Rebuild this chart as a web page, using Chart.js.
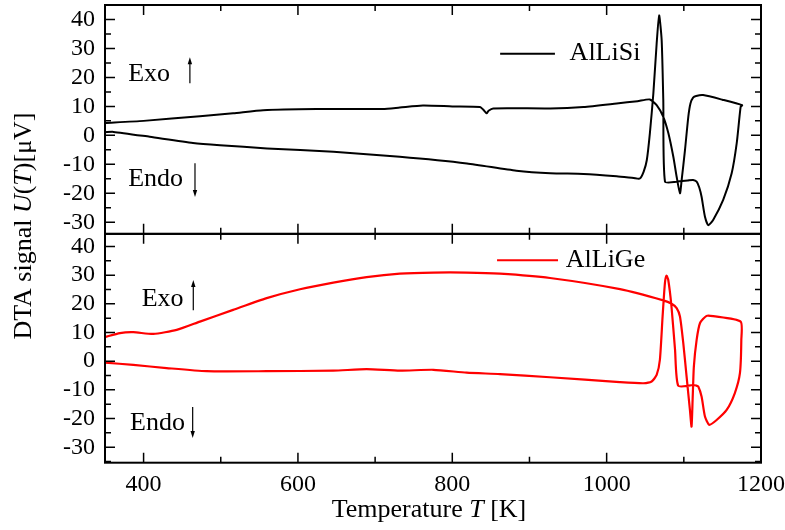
<!DOCTYPE html>
<html><head><meta charset="utf-8">
<style>html,body{margin:0;padding:0;background:#fff}#wrap{width:785px;height:530px;position:relative}</style>
<script src="https://cdn.jsdelivr.net/npm/chart.js@4.4.0/dist/chart.umd.min.js"></script>
</head><body><div id="wrap"><canvas id="c" width="785" height="530"></canvas></div>
<script>
// ---- data ----
const seriesNames = ['AlLiSi', 'AlLiGe'];
// AlLiSi: one continuous loop (lower branch left->right, then upper branch right->left)
const siT = [350,361,408,464,499,560,646,732,819,883,927,970,1013,1035,1043,1048,1052,1056,1060.5,1064.8,1068,1071.3,1073.4,1075.6,1090.7,1105,1112,1116.6,1120,1123,1127.4,1131.7,1138,1151,1162,1168.5,1173.6,1175.5,
  1150,1125,1116,1112,1108.6,1105.8,1101.5,1097.2,1095,1090.7,1086.4,1080,1073.4,1064.8,1056,1040,1013,970,927,853,847,844.5,840,836,800,762,732,710,624,555,516,473,400,350];
const siU = [1.1,1.2,-0.5,-2.6,-3.4,-4.5,-5.7,-7.4,-9.7,-12.2,-13.1,-13.3,-14.1,-14.7,-14.9,-12.5,-8.6,0.7,14.4,31.7,41.4,32.8,12.1,-16.0,-16.0,-15.6,-15.4,-16.0,-18.0,-21.2,-28.1,-31.0,-29.2,-22.3,-13.1,-2.8,9.8,10.4,
  12.3,13.9,13.6,13.0,11.0,6.4,-5.1,-15.4,-20.0,-14.3,-7.4,0.7,6.4,10.4,12.4,11.8,11.0,9.8,9.3,9.3,8.5,7.6,8.9,9.8,10.0,10.3,9.6,9.1,9.1,8.7,7.6,6.6,5.0,4.3];
// AlLiGe
const geT = [350,386.7,429.8,481.5,559.5,645.8,689,732,775.5,818.6,861.8,926.6,1017,1047.5,1058.3,1064.8,1069,1072.5,1075.5,1077.5,1079.8,1084,1088.6,1092.8,1112,1116,1118.7,1123,1127.4,1133,1142.5,1155.5,1166,1172.7,1174.5,1173.6,
  1138,1129.5,1121,1116.6,1113,1111.4,1110,1107.9,1103.6,1099.3,1095,1090.7,1084.2,1073.4,1017.3,926.6,861.8,818.6,775.5,732,689,645.8,602.7,559.5,516,473,442.9,412.6,386.7,369.4,350];
const geU = [-0.5,-1.3,-2.4,-3.5,-3.5,-3.3,-2.8,-3.3,-3.0,-4.0,-4.5,-5.6,-7.3,-7.7,-7.1,-4.8,0.5,15.6,27.2,29.8,28.4,19.1,4.0,-8.6,-8.3,-8.5,-8.8,-12.3,-19.3,-22.2,-20.5,-17.0,-11.2,-4.2,7.4,13.8,
  15.7,15.8,13.3,7.4,-1.9,-13.5,-22.8,-17.0,-5.4,6.3,15.6,18.5,20.0,21.2,25.1,29.0,30.5,30.9,30.9,30.5,29.3,27.4,25.1,22.0,17.9,13.8,10.9,9.5,10.1,9.8,8.4];
const xTicks = [400, 600, 800, 1000, 1200];
const xMinorTicks = [500, 700, 900, 1100];
const yTicks = [-30, -20, -10, 0, 10, 20, 30, 40];
const yMinorTicks = [-35, -25, -15, -5, 5, 15, 25, 35, 45];
const xTitle = [['Temperature ', false], ['T', true], [' [K]', false]];
const yTitle = [['DTA signal ', false], ['U', true], ['(', false], ['T', true], [')[\u03BCV]', false]];
const exoLabel = 'Exo', endoLabel = 'Endo';

// ---- drawing ----
const FONT = '"Liberation Serif", "Times New Roman", serif';
const pts = (xs, ys) => xs.map((x, i) => ({x: x, y: ys[i]}));

function richWidth(ctx, parts, size) {
  let w = 0;
  for (const [t, it] of parts) { ctx.font = (it ? 'italic ' : '') + size + 'px ' + FONT; w += ctx.measureText(t).width; }
  return w;
}
function drawRich(ctx, parts, x, y, size) {
  let cx = x;
  for (const [t, it] of parts) {
    ctx.font = (it ? 'italic ' : '') + size + 'px ' + FONT;
    ctx.fillText(t, cx, y);
    cx += ctx.measureText(t).width;
  }
}
function arrow(ctx, x, yTail, yHead) {
  const dir = yHead < yTail ? -1 : 1;
  ctx.lineWidth = 1.2;
  ctx.beginPath(); ctx.moveTo(x, yTail); ctx.lineTo(x, yHead - dir * 5); ctx.stroke();
  ctx.beginPath(); ctx.moveTo(x, yHead); ctx.lineTo(x - 2.2, yHead - dir * 7); ctx.lineTo(x + 2.2, yHead - dir * 7); ctx.closePath(); ctx.fill();
}

const decor = {
  id: 'decor',
  afterDraw(chart) {
    const ctx = chart.ctx, xs = chart.scales.x;
    const panels = [
      {ys: chart.scales.yTop, color: '#000', name: seriesNames[0],
       exo: [380, 18.7], exoArrow: [460, 18.0, 27.0], endo: [380, -17.5], endoArrow: [466.6, -9.6, -21.3],
       leg: [862, 933, 28.2, 952]},
      {ys: chart.scales.yBot, color: '#ff0000', name: seriesNames[1],
       exo: [397.6, 19.2], exoArrow: [464.4, 17.8, 28.3], endo: [382.4, -24.0], endoArrow: [463.6, -16.0, -26.8],
       leg: [858, 937, 35.2, 947]}
    ];
    ctx.save();
    ctx.strokeStyle = '#000'; ctx.fillStyle = '#000';
    for (const p of panels) {
      const ys = p.ys, L = xs.left, R = xs.right, T = ys.top, B = ys.bottom;
      ctx.lineWidth = 1.5;
      ctx.beginPath();
      const tx = (v, len) => { const px = xs.getPixelForValue(v); ctx.moveTo(px, B); ctx.lineTo(px, B - len); ctx.moveTo(px, T); ctx.lineTo(px, T + len); };
      const ty = (v, len) => { if (v < ys.min || v > ys.max) return; const py = ys.getPixelForValue(v); ctx.moveTo(L, py); ctx.lineTo(L + len, py); ctx.moveTo(R, py); ctx.lineTo(R - len, py); };
      xTicks.forEach(v => tx(v, 10)); xMinorTicks.forEach(v => tx(v, 6));
      yTicks.forEach(v => ty(v, 10)); yMinorTicks.forEach(v => ty(v, 6));
      ctx.stroke();
      ctx.lineWidth = 2;
      ctx.strokeRect(L, T, R - L, B - T);
      // Exo / Endo
      ctx.textAlign = 'left'; ctx.textBaseline = 'alphabetic';
      ctx.font = '26px ' + FONT;
      ctx.fillText(exoLabel, xs.getPixelForValue(p.exo[0]), ys.getPixelForValue(p.exo[1]));
      ctx.fillText(endoLabel, xs.getPixelForValue(p.endo[0]), ys.getPixelForValue(p.endo[1]));
      arrow(ctx, xs.getPixelForValue(p.exoArrow[0]), ys.getPixelForValue(p.exoArrow[1]), ys.getPixelForValue(p.exoArrow[2]));
      arrow(ctx, xs.getPixelForValue(p.endoArrow[0]), ys.getPixelForValue(p.endoArrow[1]), ys.getPixelForValue(p.endoArrow[2]));
      // legend
      const ly = ys.getPixelForValue(p.leg[2]);
      ctx.strokeStyle = p.color; ctx.lineWidth = 2;
      ctx.beginPath(); ctx.moveTo(xs.getPixelForValue(p.leg[0]), ly); ctx.lineTo(xs.getPixelForValue(p.leg[1]), ly); ctx.stroke();
      ctx.strokeStyle = '#000';
      ctx.textBaseline = 'middle';
      ctx.fillText(p.name, xs.getPixelForValue(p.leg[3]), ly);
    }
    // axis titles
    ctx.textBaseline = 'alphabetic'; ctx.textAlign = 'left';
    const xw = richWidth(ctx, xTitle, 26);
    drawRich(ctx, xTitle, (xs.left + xs.right) / 2 - 4 - xw / 2, 517, 26);
    const yw = richWidth(ctx, yTitle, 26);
    ctx.save();
    ctx.translate(31, 226 + yw / 2);
    ctx.rotate(-Math.PI / 2);
    drawRich(ctx, yTitle, 0, 0, 26);
    ctx.restore();
    ctx.restore();
  }
};

const tickFont = {family: FONT, size: 24};
function yAxis(min, max) {
  return {
    type: 'linear', axis: 'y', position: 'left', stack: 'panels', stackWeight: 1,
    min: min, max: max,
    afterBuildTicks: s => { s.ticks = yTicks.map(v => ({value: v})); },
    afterFit: s => { s.width = 105; s.paddingTop = 0; s.paddingBottom = 0; },
    grid: {display: false, drawTicks: false}, border: {display: false},
    ticks: {font: tickFont, color: '#000', padding: 10, autoSkip: false, callback: v => String(v)}
  };
}

new Chart(document.getElementById('c'), {
  type: 'scatter',
  data: {
    datasets: [
      {label: seriesNames[0], data: pts(siT, siU), yAxisID: 'yTop', showLine: true, borderColor: '#000', borderWidth: 2, pointRadius: 0, tension: 0.2, fill: false},
      {label: seriesNames[1], data: pts(geT, geU), yAxisID: 'yBot', showLine: true, borderColor: '#ff0000', borderWidth: 2.2, pointRadius: 0, tension: 0.2, fill: false}
    ]
  },
  options: {
    responsive: false, animation: false, devicePixelRatio: 1,
    layout: {padding: {top: 5, right: 24, left: 0, bottom: 0}},
    plugins: {legend: {display: false}, tooltip: {enabled: false}},
    scales: {
      x: {
        type: 'linear', position: 'bottom', min: 350, max: 1200,
        afterBuildTicks: s => { s.ticks = xTicks.map(v => ({value: v})); },
        afterFit: s => { s.height = 67.3; s.paddingLeft = 0; s.paddingRight = 0; },
        grid: {display: false, drawTicks: false}, border: {display: false},
        ticks: {font: tickFont, color: '#000', padding: 8, maxRotation: 0, autoSkip: false, callback: v => String(v)}
      },
      // listed bottom panel first: the later-listed left axis is stacked on top
      yBot: yAxis(-35.4, 44.4),
      yTop: yAxis(-34, 45)
    }
  },
  plugins: [decor]
});
</script>
</body></html>
